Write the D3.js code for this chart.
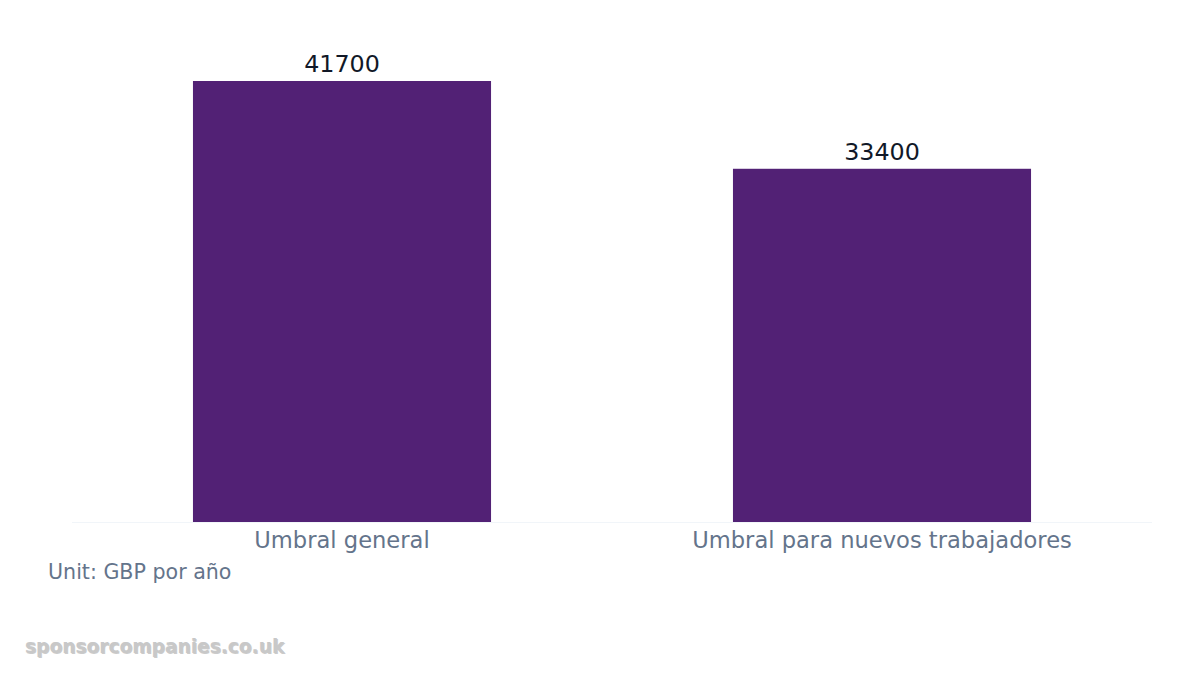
<!DOCTYPE html>
<html><head><meta charset="utf-8">
<script src="https://cdn.jsdelivr.net/npm/d3@7/dist/d3.min.js"></script>
<style>body{margin:0;background:#fff;}svg{display:block;font-family:"DejaVu Sans",sans-serif;}</style>
</head><body>
<svg id="c" width="1200" height="675"></svg>
<script>
const categories = ["Umbral general", "Umbral para nuevos trabajadores"];
const values = [41700, 33400];
const unitLabel = "Unit: GBP por año";
const watermark = "sponsorcompanies.co.uk";

const svg = d3.select("#c");
const plotL = 72, plotR = 1152, plotT = 81, plotB = 522;
const x = d3.scaleBand().domain(categories).range([plotL, plotR]).paddingInner(0.448).paddingOuter(0.224);
const y = d3.scaleLinear().domain([0, d3.max(values)]).range([plotB, plotT]);

svg.append("line").attr("x1", plotL).attr("x2", plotR).attr("y1", plotB + 0.5).attr("y2", plotB + 0.5)
  .attr("stroke", "#f1f5f9").attr("stroke-width", 1);

const data = categories.map((c, i) => ({c, v: values[i]}));
svg.selectAll("rect.bar").data(data).join("rect").attr("class", "bar")
  .attr("x", d => x(d.c)).attr("width", x.bandwidth())
  .attr("y", d => y(d.v)).attr("height", d => plotB - y(d.v))
  .attr("fill", "#522175");

svg.selectAll("text.val").data(data).join("text").attr("class", "val")
  .attr("x", d => x(d.c) + x.bandwidth() / 2).attr("y", d => y(d.v) - 9)
  .attr("text-anchor", "middle").attr("font-size", 23.8).attr("fill", "#111827")
  .text(d => d.v);

const xAxis = d3.axisBottom(x).tickSize(0).tickPadding(0);
const ax = svg.append("g").attr("transform", `translate(0,${plotB})`).call(xAxis);
ax.select(".domain").remove();
ax.selectAll("text").attr("font-size", 22.6).attr("fill", "#64748b")
  .attr("font-family", "DejaVu Sans, sans-serif").attr("dy", null).attr("y", 26);

svg.append("text").attr("x", 48).attr("y", 579).attr("font-size", 20.6).attr("fill", "#64748b").text(unitLabel);

svg.append("text").attr("x", 26).attr("y", 654).attr("font-size", 18.6).attr("font-weight", "bold")
  .attr("fill", "#999").attr("opacity", 0.5).text(watermark);
svg.append("text").attr("x", 25).attr("y", 653).attr("font-size", 18.6).attr("font-weight", "bold")
  .attr("fill", "#c8c8c8").text(watermark);
</script>
</body></html>
